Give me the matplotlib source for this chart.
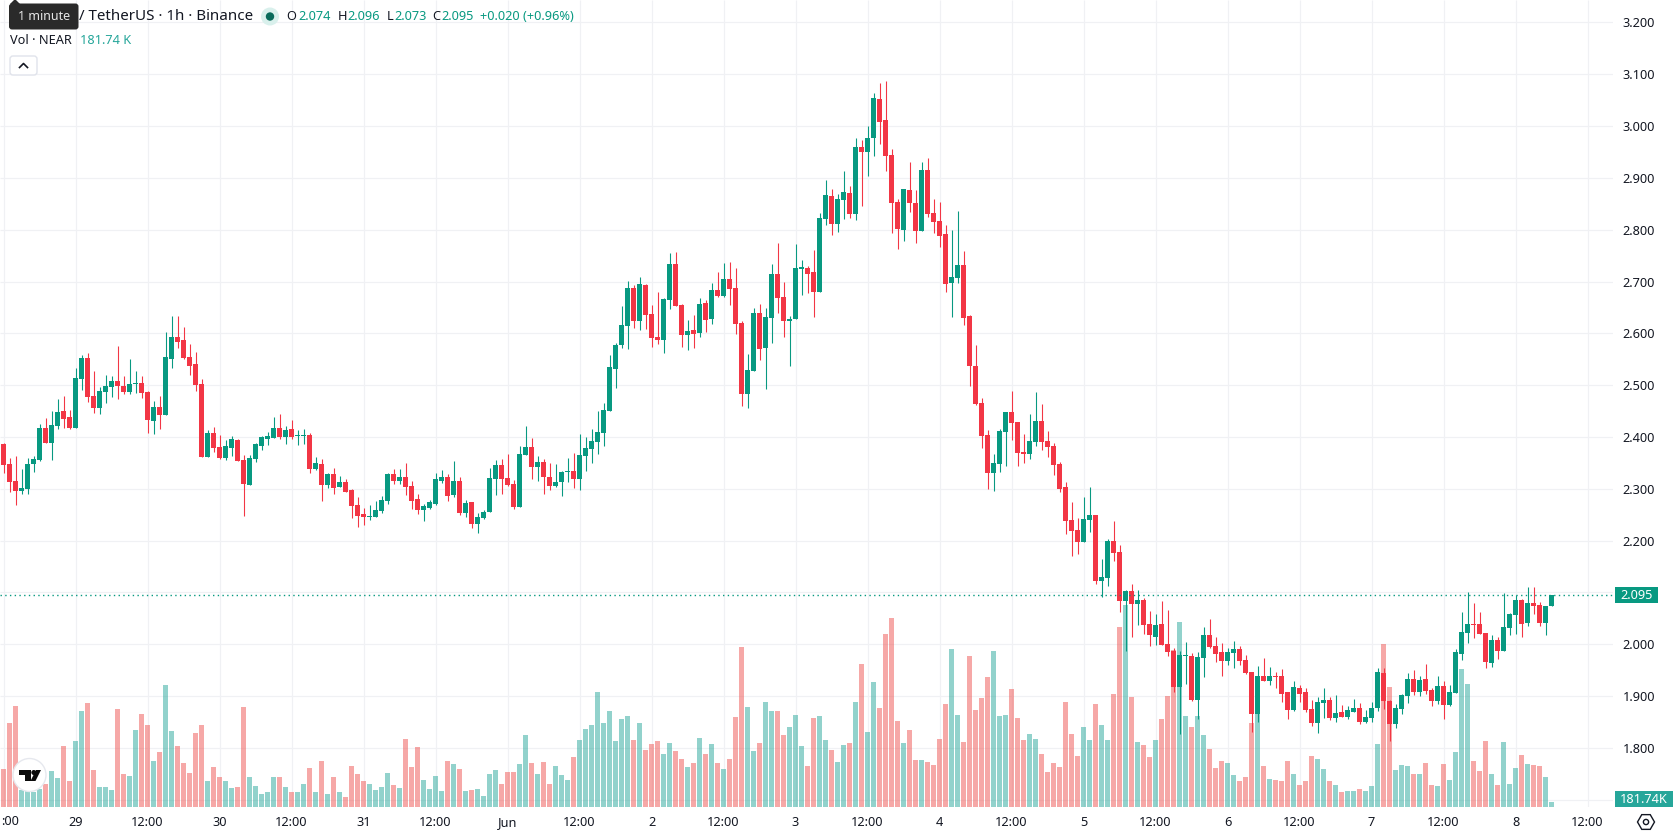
import numpy as np
import matplotlib
matplotlib.use("Agg")
import matplotlib.pyplot as plt
from matplotlib.patches import Rectangle, Circle, FancyBboxPatch, Polygon, RegularPolygon

plt.rcParams['font.family'] = ['Noto Sans', 'DejaVu Sans']

# NEAR/USDT hourly candles, one row per 12 bars
open_ = [
    2.386,2.348,2.315,2.296,2.299,2.348,2.355,2.417,2.388,2.421,2.450,2.438,
    2.417,2.512,2.552,2.479,2.456,2.487,2.496,2.508,2.498,2.487,2.502,2.504,
    2.487,2.431,2.458,2.442,2.550,2.593,2.587,2.554,2.541,2.502,2.361,2.407,
    2.380,2.359,2.379,2.394,2.355,2.307,2.357,2.382,2.396,2.398,2.417,2.400,
    2.415,2.402,2.402,2.404,2.338,2.348,2.307,2.328,2.303,2.313,2.297,2.269,
    2.251,2.245,2.245,2.257,2.276,2.328,2.315,2.323,2.305,2.280,2.259,2.263,
    2.270,2.315,2.323,2.288,2.315,2.253,2.274,2.232,2.243,2.255,2.319,2.346,
    2.321,2.309,2.265,2.365,2.380,2.342,2.351,2.323,2.305,2.313,2.332,2.334,
    2.319,2.363,2.377,2.390,2.407,2.450,2.531,2.577,2.614,2.687,2.623,2.693,
    2.637,2.593,2.587,2.664,2.733,2.654,2.596,2.606,2.600,2.658,2.627,2.683,
    2.672,2.704,2.687,2.620,2.483,2.527,2.639,2.571,2.629,2.714,2.670,2.623,
    2.627,2.724,2.726,2.718,2.680,2.821,2.865,2.811,2.857,2.871,2.830,2.959,
    2.950,2.977,3.052,3.012,2.944,2.853,2.799,2.876,2.851,2.797,2.915,2.832,
    2.817,2.792,2.697,2.707,2.732,2.633,2.537,2.466,2.404,2.331,2.348,2.410,
    2.448,2.429,2.371,2.367,2.390,2.431,2.392,2.383,2.348,2.303,2.239,2.221,
    2.198,2.239,2.250,2.123,2.127,2.200,2.179,2.084,2.102,2.078,2.086,2.040,
    2.015,2.040,2.001,1.988,1.918,1.978,1.978,1.893,1.974,2.017,1.996,1.986,
    1.967,1.984,1.990,1.969,1.947,1.866,1.938,1.930,1.938,1.938,1.907,1.874,
    1.916,1.907,1.876,1.849,1.886,1.893,1.857,1.870,1.859,1.870,1.878,1.851,
    1.857,1.878,1.945,1.891,1.846,1.875,1.900,1.933,1.908,1.933,1.912,1.891,
    1.919,1.883,1.906,1.981,2.022,2.039,2.039,2.021,1.964,2.008,1.987,2.031,
    2.056,2.085,2.041,2.079,2.075,2.041,2.074,
]
high = [
    2.388,2.359,2.363,2.338,2.359,2.363,2.425,2.436,2.450,2.473,2.479,2.452,
    2.533,2.558,2.562,2.527,2.496,2.519,2.517,2.575,2.517,2.550,2.527,2.517,
    2.488,2.469,2.479,2.602,2.633,2.633,2.612,2.579,2.564,2.512,2.413,2.419,
    2.404,2.394,2.402,2.396,2.365,2.365,2.388,2.402,2.409,2.438,2.444,2.421,
    2.433,2.413,2.415,2.407,2.361,2.357,2.330,2.340,2.325,2.319,2.299,2.284,
    2.263,2.269,2.276,2.286,2.330,2.338,2.338,2.350,2.315,2.290,2.270,2.278,
    2.330,2.336,2.328,2.353,2.323,2.278,2.274,2.253,2.259,2.340,2.355,2.357,
    2.367,2.317,2.382,2.421,2.398,2.363,2.357,2.350,2.348,2.334,2.359,2.369,
    2.405,2.400,2.415,2.450,2.465,2.558,2.581,2.652,2.701,2.693,2.708,2.695,
    2.654,2.679,2.668,2.755,2.758,2.656,2.625,2.635,2.668,2.664,2.697,2.718,
    2.735,2.737,2.726,2.623,2.560,2.649,2.656,2.649,2.733,2.774,2.699,2.633,
    2.772,2.741,2.730,2.760,2.832,2.896,2.878,2.869,2.913,2.884,2.977,2.973,
    3.000,3.064,3.083,3.087,2.956,2.859,2.878,2.931,2.876,2.931,2.938,2.859,
    2.853,2.809,2.799,2.836,2.759,2.635,2.578,2.475,2.414,2.367,2.416,2.448,
    2.489,2.429,2.406,2.444,2.487,2.464,2.412,2.389,2.352,2.314,2.275,2.244,
    2.285,2.304,2.250,2.165,2.204,2.237,2.192,2.104,2.117,2.105,2.090,2.065,
    2.059,2.084,2.067,1.992,1.988,2.005,1.984,1.986,2.034,2.048,2.015,2.003,
    1.992,2.007,1.996,1.980,1.947,1.959,1.974,1.957,1.947,1.953,1.907,1.930,
    1.922,1.915,1.893,1.899,1.915,1.899,1.903,1.882,1.880,1.895,1.886,1.874,
    1.888,1.955,1.955,1.893,1.885,1.904,1.944,1.950,1.939,1.962,1.916,1.939,
    1.929,1.921,1.991,2.062,2.101,2.079,2.062,2.021,2.018,2.014,2.099,2.060,
    2.095,2.087,2.110,2.110,2.081,2.074,2.096,
]
low = [
    2.330,2.294,2.269,2.290,2.290,2.332,2.353,2.388,2.355,2.415,2.417,2.415,
    2.417,2.490,2.467,2.446,2.444,2.465,2.477,2.473,2.483,2.483,2.485,2.475,
    2.407,2.406,2.415,2.442,2.533,2.571,2.550,2.519,2.488,2.361,2.361,2.371,
    2.357,2.355,2.363,2.353,2.247,2.307,2.352,2.375,2.384,2.398,2.396,2.386,
    2.396,2.384,2.386,2.330,2.336,2.276,2.301,2.290,2.303,2.294,2.243,2.226,
    2.230,2.240,2.245,2.253,2.270,2.309,2.309,2.288,2.261,2.251,2.238,2.261,
    2.269,2.311,2.276,2.284,2.249,2.245,2.224,2.215,2.242,2.255,2.288,2.290,
    2.305,2.261,2.265,2.365,2.319,2.315,2.290,2.297,2.303,2.286,2.313,2.301,
    2.297,2.334,2.350,2.367,2.382,2.450,2.494,2.571,2.569,2.610,2.606,2.608,
    2.573,2.579,2.562,2.647,2.652,2.573,2.568,2.571,2.593,2.602,2.618,2.670,
    2.670,2.654,2.598,2.459,2.456,2.527,2.548,2.492,2.581,2.639,2.593,2.537,
    2.627,2.674,2.677,2.631,2.680,2.809,2.790,2.796,2.821,2.823,2.819,2.846,
    2.904,2.942,2.965,2.913,2.794,2.763,2.778,2.834,2.774,2.797,2.824,2.794,
    2.767,2.680,2.632,2.697,2.616,2.498,2.462,2.379,2.300,2.296,2.333,2.344,
    2.394,2.344,2.350,2.358,2.383,2.375,2.362,2.327,2.293,2.212,2.171,2.175,
    2.198,2.217,2.117,2.092,2.113,2.160,2.063,1.988,2.015,2.038,2.019,1.996,
    1.999,1.999,1.978,1.907,1.826,1.924,1.891,1.855,1.936,1.992,1.965,1.938,
    1.961,1.955,1.961,1.942,1.830,1.851,1.930,1.922,1.916,1.888,1.855,1.872,
    1.889,1.870,1.843,1.828,1.857,1.853,1.851,1.859,1.855,1.870,1.847,1.849,
    1.851,1.872,1.875,1.813,1.838,1.865,1.887,1.902,1.900,1.904,1.881,1.885,
    1.856,1.881,1.906,1.969,2.002,2.012,2.020,1.954,1.956,1.971,1.987,2.018,
    2.020,2.014,2.035,2.058,2.035,2.018,2.073,
]
close = [
    2.346,2.313,2.296,2.301,2.348,2.357,2.417,2.388,2.423,2.448,2.434,2.417,
    2.514,2.552,2.477,2.456,2.488,2.498,2.508,2.498,2.487,2.502,2.504,2.485,
    2.433,2.458,2.442,2.554,2.593,2.583,2.552,2.537,2.500,2.361,2.407,2.379,
    2.359,2.382,2.396,2.353,2.309,2.359,2.386,2.400,2.402,2.417,2.400,2.413,
    2.400,2.404,2.404,2.338,2.350,2.307,2.328,2.301,2.313,2.294,2.267,2.247,
    2.245,2.247,2.259,2.278,2.328,2.315,2.323,2.303,2.276,2.259,2.267,2.274,
    2.319,2.323,2.286,2.315,2.253,2.272,2.232,2.245,2.255,2.321,2.346,2.319,
    2.307,2.265,2.367,2.380,2.342,2.351,2.323,2.305,2.313,2.332,2.334,2.319,
    2.365,2.378,2.392,2.409,2.452,2.535,2.577,2.616,2.687,2.623,2.695,2.635,
    2.591,2.587,2.666,2.733,2.652,2.596,2.604,2.598,2.656,2.625,2.683,2.672,
    2.704,2.685,2.618,2.483,2.529,2.639,2.569,2.631,2.714,2.668,2.623,2.627,
    2.726,2.728,2.714,2.679,2.823,2.867,2.811,2.859,2.873,2.830,2.959,2.950,
    2.977,3.054,3.008,2.942,2.851,2.801,2.878,2.851,2.797,2.915,2.830,2.815,
    2.788,2.695,2.709,2.732,2.630,2.537,2.464,2.402,2.331,2.350,2.412,2.448,
    2.427,2.369,2.367,2.392,2.431,2.390,2.381,2.346,2.300,2.237,2.219,2.198,
    2.241,2.250,2.123,2.129,2.200,2.177,2.084,2.102,2.078,2.086,2.038,2.017,
    2.038,1.999,1.986,1.918,1.980,1.980,1.893,1.976,2.017,1.994,1.982,1.967,
    1.986,1.990,1.967,1.945,1.866,1.938,1.930,1.938,1.936,1.905,1.874,1.918,
    1.905,1.874,1.849,1.888,1.893,1.857,1.868,1.859,1.874,1.878,1.851,1.859,
    1.878,1.947,1.891,1.846,1.877,1.902,1.933,1.908,1.931,1.910,1.891,1.919,
    1.883,1.908,1.985,2.023,2.039,2.037,2.020,1.966,2.008,1.987,2.033,2.058,
    2.085,2.039,2.079,2.074,2.041,2.074,2.095,
]
# volume in thousands of NEAR
volume = [
    1469,3263,3926,650,715,585,715,884,1391,1118,2366,1001,
    2561,3731,4043,1430,767,767,650,3809,1274,1196,2990,3614,
    3185,1781,2132,4745,2951,2366,1703,1313,2873,3185,1001,1547,
    1157,1001,728,767,3887,1157,806,494,572,1157,1157,767,
    572,572,884,1508,572,1781,494,1157,572,377,1586,1274,
    1001,884,650,767,1313,845,728,2639,1547,2327,1040,689,
    1196,611,1781,1664,1469,611,650,689,416,1274,1430,884,
    1352,1352,1664,2795,1703,1274,1742,884,1586,1235,1040,1937,
    2600,3029,3185,4472,3263,3731,2561,3419,3536,2600,3263,2210,
    2444,2561,2054,2483,2171,1859,1547,1703,2678,2054,2444,1703,
    1469,1859,3497,6227,3887,2171,2483,4082,3731,3731,2795,3107,
    3575,2366,1586,3458,3536,2600,2210,1742,2405,2483,4082,5564,
    2912,4862,3848,6734,7358,3341,2483,2990,1820,1820,1742,1625,
    2639,4004,6149,3575,2522,5876,3770,4238,5057,6071,3536,3575,
    4589,3458,2600,2834,2639,2054,1352,1703,1547,4082,2834,1976,
    3107,2600,4004,3185,2600,4394,7007,7865,4277,2522,2405,1937,
    2600,3419,4316,6110,7202,3536,3107,3536,2795,2249,1508,1781,
    1703,1235,1001,1157,3263,3614,1586,1079,1040,1001,1781,1274,
    845,1001,1976,1859,1469,1001,845,572,611,611,689,611,
    806,2444,6344,4667,1430,1625,1586,1274,1274,1703,845,806,
    1664,1040,2132,5369,4784,1781,1391,2561,1274,845,2522,884,
    1508,2015,1664,1625,1586,1157,181.74,
]
# the first tick sits on the left edge, only its end is drawn (separately below)
time_labels = ['','29','12:00','30','12:00','31','12:00','Jun','12:00','2','12:00','3',
               '12:00','4','12:00','5','12:00','6','12:00','7','12:00','8','12:00']
price_ticks = [1.8,1.9,2.0,2.1,2.2,2.3,2.4,2.5,2.6,2.7,2.8,2.9,3.0,3.1,3.2]
last_price = 2.095
last_volume = '181.74 K'

GREEN = '#089981'
RED = '#F23645'
TEXT = '#131722'
GRID = '#f0f1f4'
W, H = 1678, 835
PANE_W, PANE_H = 1613, 807

o = np.array(open_)
h = np.array(high)
l = np.array(low)
c = np.array(close)
vol = np.array(volume)
idx = np.arange(len(o))
up = c >= o

fig = plt.figure(figsize=(W / 100, H / 100), dpi=100, facecolor='white')
rect = [0, (H - PANE_H) / H, PANE_W / W, PANE_H / H]

# three stacked axes: grid at the bottom, volume in the middle, candles on top
ax_grid = fig.add_axes(rect, zorder=1)
ax_vol = fig.add_axes(rect, zorder=2)
ax = fig.add_axes(rect, zorder=3)

xlim = (-3.5 / 6, (PANE_W - 3.5) / 6)
ylim = (2 - (PANE_H - 644.3) / 518.2, 2 + 644.3 / 518.2)
for a in (ax_grid, ax_vol, ax):
    a.set_xlim(xlim)
    for s in a.spines.values():
        s.set_visible(False)
ax_grid.set_ylim(ylim)
ax.set_ylim(ylim)
ax_vol.set_ylim(0, PANE_H * 39.0)
ax_vol.patch.set_visible(False)
ax.patch.set_visible(False)
ax_vol.set_xticks([])
ax_vol.set_yticks([])
ax_grid.set_xticks([])
ax_grid.set_yticks([])

tick_pos = np.arange(len(time_labels)) * 12
ax_grid.vlines(tick_pos, ylim[0], ylim[1], color=GRID, lw=0.85)
ax_grid.hlines([1.7] + price_ticks, xlim[0], xlim[1], color=GRID, lw=0.85)

ax_vol.bar(idx, vol, width=5 / 6, linewidth=0, alpha=0.5,
           color=['#26a69a' if u else '#ef5350' for u in up])

colors = [GREEN if u else RED for u in up]
ax.vlines(idx, l, h, colors=colors, lw=0.78)
ax.bar(idx, np.abs(c - o), bottom=np.minimum(o, c), width=5 / 6, linewidth=0, color=colors)
ax.axhline(last_price, color=GREEN, lw=1.0, linestyle=(0, (1, 2.4)))

ax.yaxis.tick_right()
ax.set_yticks(price_ticks)
ax.set_yticklabels(['%.3f' % p for p in price_ticks])
ax.set_xticks(tick_pos)
ax.set_xticklabels(time_labels)
ax.tick_params(axis='both', length=0, labelsize=9.2, colors=TEXT)
ax.tick_params(axis='y', pad=7)
ax.tick_params(axis='x', pad=6.8)
ax.get_xticklabels()[7].set_fontweight('bold')

# overlay in pixel units for the header, logo and axis badges
ui = fig.add_axes([0, 0, 1, 1], zorder=4)
ui.set_xlim(0, W)
ui.set_ylim(H, 0)
ui.axis('off')

ui.text(1, 821.5, ':00', color=TEXT, fontsize=9.2, va='center')

ui.add_patch(Rectangle((1615, 586.7), 42.7, 16.6, color=GREEN, lw=0))
ui.text(1636.5, 595.3, '%.3f' % last_price, color='white', fontsize=9.2, ha='center', va='center')
ui.add_patch(Rectangle((1615, 791), 58, 15.7, color='#26a69a', lw=0))
ui.text(1644, 799.3, '181.74K', color='white', fontsize=9.2, ha='center', va='center')

ui.add_patch(RegularPolygon((1646, 822), 6, radius=8.5, orientation=np.pi / 2,
                            fill=False, ec=TEXT, lw=1.0))
ui.add_patch(Circle((1646, 822), 2.6, fill=False, ec=TEXT, lw=1.0))

ui.text(79, 16, '/ TetherUS · 1h · Binance', color=TEXT, fontsize=10.9, va='center')
ui.add_patch(Circle((270, 16.5), 9, color='#d9f0ec', lw=0))
ui.add_patch(Circle((270, 16.5), 4.2, color='#0a6b5b', lw=0))
for x, s, col in [(286.5, 'O', TEXT), (298, '2.074', GREEN), (337.5, 'H', TEXT), (347.5, '2.096', GREEN),
                  (386.5, 'L', TEXT), (394, '2.073', GREEN), (432.5, 'C', TEXT), (441, '2.095', GREEN),
                  (480, '+0.020 (+0.96%)', GREEN)]:
    ui.text(x, 16.5, s, color=col, fontsize=9.2, va='center')
ui.text(9.5, 40, 'Vol · NEAR', color=TEXT, fontsize=9.2, va='center')
ui.text(80, 40, last_volume, color='#26a69a', fontsize=9.2, va='center')

ui.add_patch(FancyBboxPatch((10, 56), 27, 19, boxstyle='round,pad=0,rounding_size=3',
                            fc='white', ec='#e0e3eb', lw=1.0))
ui.plot([19.5, 23.5, 27.5], [67.5, 63.5, 67.5], color=TEXT, lw=1.2)

ui.add_patch(FancyBboxPatch((9, 3.5), 69.5, 26, boxstyle='round,pad=0,rounding_size=3',
                            fc='#2a2a2a', ec='none', lw=0))
ui.add_patch(Polygon([[10, 4], [15, -1], [20, 4]], color='#2a2a2a', lw=0))
ui.text(43.7, 16.5, '1 minute', color='#e6e6e6', fontsize=9.0, ha='center', va='center')

ui.add_patch(Circle((29.5, 775), 16.5, fc='white', ec='#e6e8ee', lw=1.0))
ui.add_patch(Polygon([[19, 770], [30.5, 770], [30.5, 781], [24.5, 781], [24.5, 775], [19, 775]], color='#0b0b0b', lw=0))
ui.add_patch(Circle((33.8, 772.5), 2.5, color='#0b0b0b', lw=0))
ui.add_patch(Polygon([[36, 770], [41, 770], [35.5, 781], [30.5, 781]], color='#0b0b0b', lw=0))

fig.savefig('out.png', dpi=100, facecolor='white')
